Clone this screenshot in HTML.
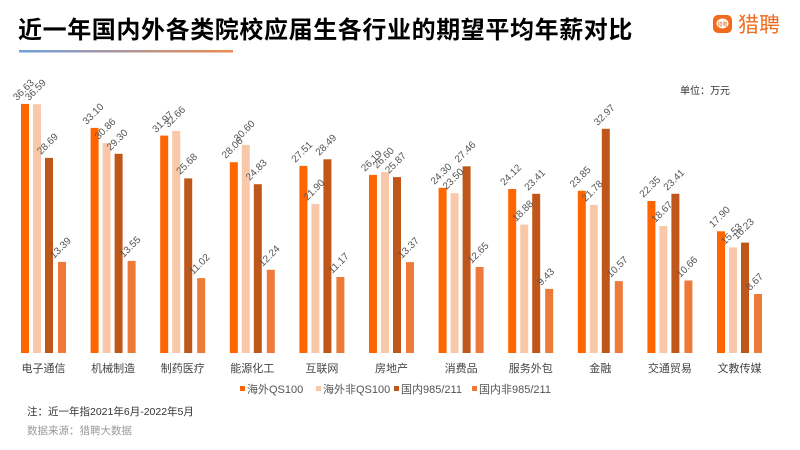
<!DOCTYPE html>
<html><head><meta charset="utf-8"><style>
body{margin:0;background:#fff;}
svg{display:block;font-family:"Liberation Sans","Noto Sans CJK SC",sans-serif;}
.v{font-size:10px;fill:#555;}
.c{font-size:11px;fill:#444;text-anchor:middle;}
</style></head><body>
<svg width="800" height="450" viewBox="0 0 800 450" xmlns="http://www.w3.org/2000/svg">
<defs><linearGradient id="lg" x1="0" x2="1"><stop offset="0" stop-color="#6fa0e0"/><stop offset="1" stop-color="#f08a50"/></linearGradient></defs>
<text x="18" y="38" font-size="24" font-weight="bold" fill="#000" letter-spacing="0.6">近一年国内外各类院校应届生各行业的期望平均年薪对比</text>
<rect x="19" y="50" width="214" height="2.5" fill="url(#lg)"/>
<rect x="713" y="15" width="19" height="18" rx="5" fill="#F26B1D"/>
<ellipse cx="722.5" cy="23.5" rx="6" ry="5" fill="#fff"/>
<text x="722.5" y="26" font-size="5" fill="#F26B1D" text-anchor="middle">猎聘</text>
<text x="738" y="32" font-size="21" fill="#F26B1D">猎聘</text>
<text x="680" y="94" font-size="10" fill="#333">单位：万元</text>

<g id="bars">
<g transform="translate(21,0)">
<rect x="0" y="103.9" width="8" height="249.1" fill="#FF6600"/><rect x="12" y="104.2" width="8" height="248.8" fill="#F9C8A8"/><rect x="24" y="157.9" width="8" height="195.1" fill="#C0571A"/><rect x="37" y="261.9" width="8" height="91.1" fill="#EE7A3A"/>
<text class="v" transform="translate(-4,101) rotate(-45)">36.63</text><text class="v" transform="translate(8,101) rotate(-45)">36.59</text><text class="v" transform="translate(20,155) rotate(-45)">28.69</text><text class="v" transform="translate(33,259) rotate(-45)">13.39</text>
<text class="c" x="22.5" y="372">电子通信</text></g>
<g transform="translate(90.6,0)">
<rect x="0" y="127.9" width="8" height="225.1" fill="#FF6600"/><rect x="12" y="143.2" width="8" height="209.8" fill="#F9C8A8"/><rect x="24" y="153.8" width="8" height="199.2" fill="#C0571A"/><rect x="37" y="260.9" width="8" height="92.1" fill="#EE7A3A"/>
<text class="v" transform="translate(-4,125) rotate(-45)">33.10</text><text class="v" transform="translate(8,140) rotate(-45)">30.86</text><text class="v" transform="translate(20,151) rotate(-45)">29.30</text><text class="v" transform="translate(33,258) rotate(-45)">13.55</text>
<text class="c" x="22.5" y="372">机械制造</text></g>
<g transform="translate(160.2,0)">
<rect x="0" y="135.6" width="8" height="217.4" fill="#FF6600"/><rect x="12" y="130.9" width="8" height="222.1" fill="#F9C8A8"/><rect x="24" y="178.4" width="8" height="174.6" fill="#C0571A"/><rect x="37" y="278.1" width="8" height="74.9" fill="#EE7A3A"/>
<text class="v" transform="translate(-4,133) rotate(-45)">31.97</text><text class="v" transform="translate(8,128) rotate(-45)">32.66</text><text class="v" transform="translate(20,175) rotate(-45)">25.68</text><text class="v" transform="translate(33,275) rotate(-45)">11.02</text>
<text class="c" x="22.5" y="372">制药医疗</text></g>
<g transform="translate(229.8,0)">
<rect x="0" y="162.2" width="8" height="190.8" fill="#FF6600"/><rect x="12" y="144.9" width="8" height="208.1" fill="#F9C8A8"/><rect x="24" y="184.2" width="8" height="168.8" fill="#C0571A"/><rect x="37" y="269.8" width="8" height="83.2" fill="#EE7A3A"/>
<text class="v" transform="translate(-4,159) rotate(-45)">28.06</text><text class="v" transform="translate(8,142) rotate(-45)">30.60</text><text class="v" transform="translate(20,181) rotate(-45)">24.83</text><text class="v" transform="translate(33,267) rotate(-45)">12.24</text>
<text class="c" x="22.5" y="372">能源化工</text></g>
<g transform="translate(299.4,0)">
<rect x="0" y="165.9" width="8" height="187.1" fill="#FF6600"/><rect x="12" y="204.1" width="8" height="148.9" fill="#F9C8A8"/><rect x="24" y="159.3" width="8" height="193.7" fill="#C0571A"/><rect x="37" y="277" width="8" height="76" fill="#EE7A3A"/>
<text class="v" transform="translate(-4,163) rotate(-45)">27.51</text><text class="v" transform="translate(8,201) rotate(-45)">21.90</text><text class="v" transform="translate(20,156) rotate(-45)">28.49</text><text class="v" transform="translate(33,274) rotate(-45)">11.17</text>
<text class="c" x="22.5" y="372">互联网</text></g>
<g transform="translate(369,0)">
<rect x="0" y="174.9" width="8" height="178.1" fill="#FF6600"/><rect x="12" y="172.1" width="8" height="180.9" fill="#F9C8A8"/><rect x="24" y="177.1" width="8" height="175.9" fill="#C0571A"/><rect x="37" y="262.1" width="8" height="90.9" fill="#EE7A3A"/>
<text class="v" transform="translate(-4,172) rotate(-45)">26.19</text><text class="v" transform="translate(8,169) rotate(-45)">26.60</text><text class="v" transform="translate(20,174) rotate(-45)">25.87</text><text class="v" transform="translate(33,259) rotate(-45)">13.37</text>
<text class="c" x="22.5" y="372">房地产</text></g>
<g transform="translate(438.6,0)">
<rect x="0" y="187.8" width="8" height="165.2" fill="#FF6600"/><rect x="12" y="193.2" width="8" height="159.8" fill="#F9C8A8"/><rect x="24" y="166.3" width="8" height="186.7" fill="#C0571A"/><rect x="37" y="267" width="8" height="86" fill="#EE7A3A"/>
<text class="v" transform="translate(-4,185) rotate(-45)">24.30</text><text class="v" transform="translate(8,190) rotate(-45)">23.50</text><text class="v" transform="translate(20,163) rotate(-45)">27.46</text><text class="v" transform="translate(33,264) rotate(-45)">12.65</text>
<text class="c" x="22.5" y="372">消费品</text></g>
<g transform="translate(508.2,0)">
<rect x="0" y="189" width="8" height="164" fill="#FF6600"/><rect x="12" y="224.6" width="8" height="128.4" fill="#F9C8A8"/><rect x="24" y="193.8" width="8" height="159.2" fill="#C0571A"/><rect x="37" y="288.9" width="8" height="64.1" fill="#EE7A3A"/>
<text class="v" transform="translate(-4,186) rotate(-45)">24.12</text><text class="v" transform="translate(8,222) rotate(-45)">18.88</text><text class="v" transform="translate(20,191) rotate(-45)">23.41</text><text class="v" transform="translate(33,286) rotate(-45)">9.43</text>
<text class="c" x="22.5" y="372">服务外包</text></g>
<g transform="translate(577.8,0)">
<rect x="0" y="190.8" width="8" height="162.2" fill="#FF6600"/><rect x="12" y="204.9" width="8" height="148.1" fill="#F9C8A8"/><rect x="24" y="128.8" width="8" height="224.2" fill="#C0571A"/><rect x="37" y="281.1" width="8" height="71.9" fill="#EE7A3A"/>
<text class="v" transform="translate(-4,188) rotate(-45)">23.85</text><text class="v" transform="translate(8,202) rotate(-45)">21.78</text><text class="v" transform="translate(20,126) rotate(-45)">32.97</text><text class="v" transform="translate(33,278) rotate(-45)">10.57</text>
<text class="c" x="22.5" y="372">金融</text></g>
<g transform="translate(647.4,0)">
<rect x="0" y="201" width="8" height="152" fill="#FF6600"/><rect x="12" y="226" width="8" height="127" fill="#F9C8A8"/><rect x="24" y="193.8" width="8" height="159.2" fill="#C0571A"/><rect x="37" y="280.5" width="8" height="72.5" fill="#EE7A3A"/>
<text class="v" transform="translate(-4,198) rotate(-45)">22.35</text><text class="v" transform="translate(8,223) rotate(-45)">18.67</text><text class="v" transform="translate(20,191) rotate(-45)">23.41</text><text class="v" transform="translate(33,278) rotate(-45)">10.66</text>
<text class="c" x="22.5" y="372">交通贸易</text></g>
<g transform="translate(717,0)">
<rect x="0" y="231.3" width="8" height="121.7" fill="#FF6600"/><rect x="12" y="247.4" width="8" height="105.6" fill="#F9C8A8"/><rect x="24" y="242.6" width="8" height="110.4" fill="#C0571A"/><rect x="37" y="294" width="8" height="59" fill="#EE7A3A"/>
<text class="v" transform="translate(-4,228) rotate(-45)">17.90</text><text class="v" transform="translate(8,245) rotate(-45)">15.53</text><text class="v" transform="translate(20,240) rotate(-45)">16.23</text><text class="v" transform="translate(33,291) rotate(-45)">8.67</text>
<text class="c" x="22.5" y="372">文教传媒</text></g>
</g>

<g font-size="11" fill="#555">
<rect x="240" y="386" width="5" height="5" fill="#FF6600"/><text x="247" y="393">海外QS100</text>
<rect x="316" y="386" width="5" height="5" fill="#F9C8A8"/><text x="323" y="393">海外非QS100</text>
<rect x="394" y="386" width="5" height="5" fill="#C0571A"/><text x="401" y="393">国内985/211</text>
<rect x="472" y="386" width="5" height="5" fill="#EE7A3A"/><text x="479" y="393">国内非985/211</text>
</g>
<text x="27" y="415" font-size="10.5" fill="#333">注：近一年指2021年6月-2022年5月</text>
<text x="27" y="434" font-size="10.5" fill="#999">数据来源：猎聘大数据</text>
</svg>
</body></html>
